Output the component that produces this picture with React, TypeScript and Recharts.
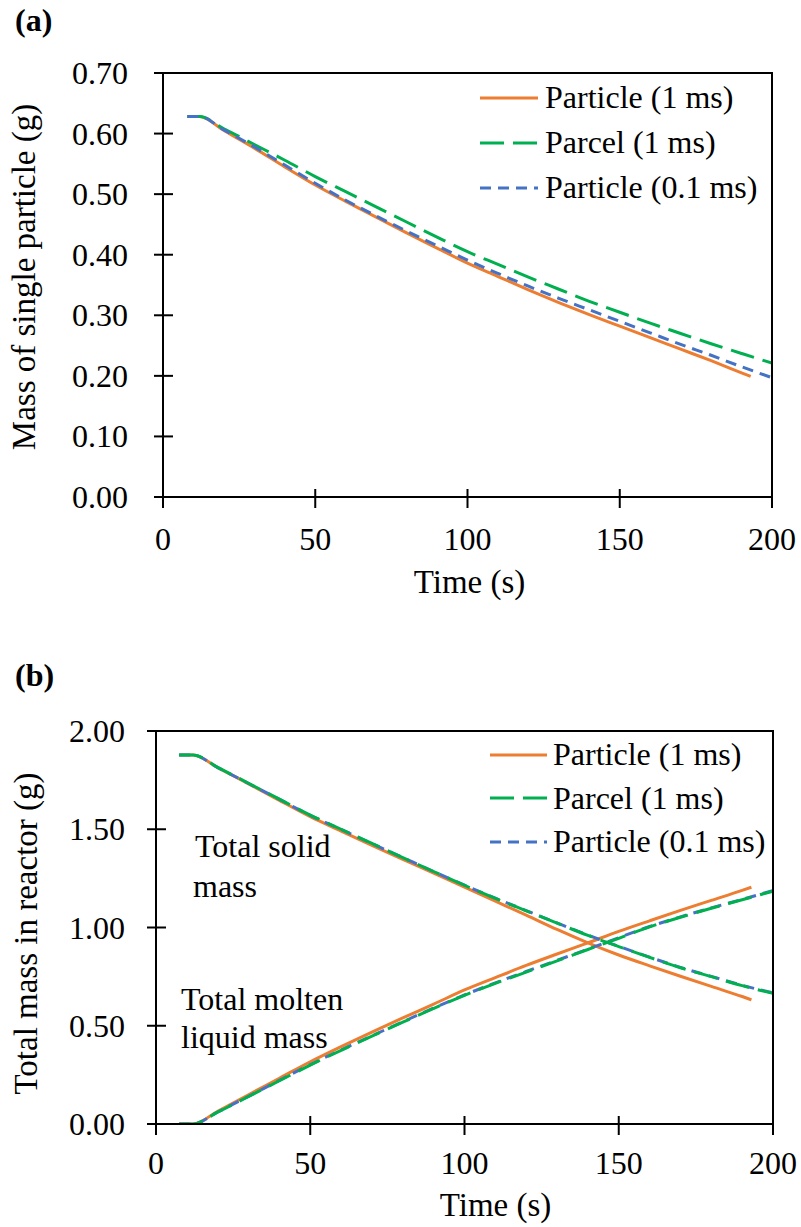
import React from 'react';
import { LineChart, Line, XAxis, YAxis, ReferenceArea, Legend, Label } from 'recharts';

const FONT = '"Liberation Serif", "Times New Roman", Times, serif';

const timeA_p1 = [8, 12, 20, 30, 40, 50, 60, 70, 80, 90, 100, 110, 120, 130, 140, 150, 160, 170, 180, 190, 193];
const timeA_full = [8, 12, 20, 30, 40, 50, 60, 70, 80, 90, 100, 110, 120, 130, 140, 150, 160, 170, 180, 190, 200];
const particle1msA = [0.628, 0.628, 0.605, 0.576, 0.545, 0.515, 0.488, 0.462, 0.436, 0.411, 0.386, 0.364, 0.342, 0.321, 0.301, 0.282, 0.263, 0.244, 0.225, 0.205, 0.199];
const parcel1msA = [0.628, 0.628, 0.608, 0.582, 0.556, 0.529, 0.504, 0.479, 0.454, 0.429, 0.405, 0.384, 0.363, 0.343, 0.323, 0.305, 0.287, 0.270, 0.253, 0.237, 0.221];
const particle01msA = [0.628, 0.628, 0.606, 0.578, 0.548, 0.518, 0.490, 0.464, 0.439, 0.415, 0.391, 0.369, 0.348, 0.328, 0.309, 0.290, 0.271, 0.252, 0.234, 0.215, 0.197];
const yTicksA = [0, 0.1, 0.2, 0.3, 0.4, 0.5, 0.6, 0.7];

const timeB_p1 = [7.5, 12, 20, 30, 40, 50, 60, 70, 80, 90, 100, 110, 120, 130, 140, 150, 160, 170, 180, 190, 193];
const timeB_full = [7.5, 12, 20, 30, 40, 50, 60, 70, 80, 90, 100, 110, 120, 130, 140, 150, 160, 170, 180, 190, 200];
const particle1msSolid = [1.878, 1.878, 1.814, 1.731, 1.647, 1.564, 1.491, 1.418, 1.347, 1.277, 1.205, 1.134, 1.063, 0.990, 0.922, 0.860, 0.805, 0.752, 0.700, 0.649, 0.632];
const particle1msLiquid = [0, 0, 0.065, 0.149, 0.233, 0.317, 0.394, 0.468, 0.540, 0.610, 0.682, 0.745, 0.807, 0.865, 0.922, 0.980, 1.034, 1.087, 1.138, 1.189, 1.205];
const parcel1msSolid = [1.878, 1.878, 1.815, 1.734, 1.653, 1.572, 1.500, 1.428, 1.356, 1.285, 1.215, 1.148, 1.085, 1.022, 0.960, 0.903, 0.848, 0.795, 0.750, 0.704, 0.665];
const parcel1msLiquid = [0, 0, 0.060, 0.140, 0.220, 0.300, 0.375, 0.447, 0.518, 0.588, 0.655, 0.716, 0.773, 0.830, 0.888, 0.945, 1.003, 1.052, 1.098, 1.141, 1.185];
const particle01msSolid = [1.878, 1.878, 1.814, 1.733, 1.652, 1.571, 1.499, 1.427, 1.356, 1.285, 1.216, 1.149, 1.086, 1.023, 0.961, 0.904, 0.849, 0.797, 0.751, 0.706, 0.667];
const particle01msLiquid = [0, 0, 0.061, 0.141, 0.222, 0.302, 0.377, 0.449, 0.520, 0.590, 0.657, 0.718, 0.776, 0.833, 0.890, 0.948, 1.005, 1.054, 1.100, 1.143, 1.188];
const yTicksB = [0, 0.5, 1.0, 1.5, 2.0];

const xTicks = [0, 50, 100, 150, 200];

const seriesNames = ['Particle (1 ms)', 'Parcel (1 ms)', 'Particle (0.1 ms)'];
const ORANGE = '#ED7D31';
const GREEN = '#00B050';
const BLUE = '#4472C4';
const seriesStyles = [
  { color: ORANGE, dash: undefined as string | undefined },
  { color: GREEN, dash: '24 9' },
  { color: BLUE, dash: '11 7' },
];

const toPoints = (ts: number[], vs: number[]) => ts.map((t, i) => ({ t, v: vs[i] }));

const makeYTick = (margin: number) => (props: any) => {
  const { x, y, payload } = props;
  const ax = x + margin;
  return (
    <g>
      <line x1={ax - 9} x2={ax + 10} y1={y} y2={y} stroke="#000" strokeWidth={2} />
      <text x={x} y={y} dy={11} textAnchor="end" fontFamily={FONT} fontSize={32} fill="#000">
        {Number(payload.value).toFixed(2)}
      </text>
    </g>
  );
};

const makeXTick = (margin: number, baseline: number) => (props: any) => {
  const { x, y, payload } = props;
  const ay = y - margin;
  return (
    <g>
      <line x1={x} x2={x} y1={ay - 8} y2={ay + 11} stroke="#000" strokeWidth={2} />
      <text x={x} y={ay + baseline} textAnchor="middle" fontFamily={FONT} fontSize={32} fill="#000">
        {payload.value}
      </text>
    </g>
  );
};

const makeLegend = (lineW: number, gap: number, rowH: number) => () => (
  <div style={{ position: 'relative' }}>
    {seriesNames.map((name, i) => (
      <div key={name} style={{ height: rowH, display: 'flex', alignItems: 'center' }}>
        <svg width={lineW} height={10} style={{ display: 'block' }}>
          <line x1={0} x2={lineW} y1={5} y2={5} stroke={seriesStyles[i].color} strokeWidth={3} strokeDasharray={seriesStyles[i].dash} />
        </svg>
        <span style={{ marginLeft: gap, fontFamily: FONT, fontSize: 32, color: '#000', lineHeight: rowH + 'px', whiteSpace: 'nowrap' }}>{name}</span>
      </div>
    ))}
  </div>
);

const yTitle = (text: string, dxBase: number, dyShift: number) => (props: any) => {
  const vb = props.viewBox || { x: 0, y: 0, width: 0, height: 0 };
  const cx = vb.x + dxBase;
  const cy = vb.y + vb.height / 2 + dyShift;
  return (
    <text x={cx} y={cy} transform={`rotate(-90 ${cx} ${cy})`} textAnchor="middle" fontFamily={FONT} fontSize={33} fill="#000">
      {text}
    </text>
  );
};

const xTitle = (text: string, dxShift: number, baseline: number) => (props: any) => {
  const vb = props.viewBox || { x: 0, y: 0, width: 0, height: 0 };
  const cx = vb.x + vb.width / 2 + dxShift;
  const cy = vb.y + baseline;
  return (
    <text x={cx} y={cy} textAnchor="middle" fontFamily={FONT} fontSize={33} fill="#000">
      {text}
    </text>
  );
};

const legendWrap = (left: number, top: number, width: number, height: number) => ({
  position: 'absolute' as const, left, top, width, height, pointerEvents: 'none' as const,
});

const ChartA = () => (
  <LineChart width={801} height={620} margin={{ top: 73, right: 29, bottom: 0, left: 0 }}>
    <XAxis type="number" dataKey="t" domain={[0, 200]} ticks={xTicks} height={123} tickSize={0} tickMargin={30} tickLine={false}
      axisLine={{ stroke: '#000', strokeWidth: 2 }} tick={makeXTick(30, 53)} allowDataOverflow>
      <Label content={xTitle('Time (s)', 2, 96)} />
    </XAxis>
    <YAxis type="number" domain={[0, 0.7]} ticks={yTicksA} width={163} tickSize={0} tickMargin={35} tickLine={false}
      axisLine={{ stroke: '#000', strokeWidth: 2 }} tick={makeYTick(35)} allowDataOverflow>
      <Label content={yTitle('Mass of single particle (g)', 35, -8)} />
    </YAxis>
    <ReferenceArea x1={0} x2={200} y1={0} y2={0.7} fill="none" fillOpacity={0} stroke="#000" strokeWidth={2} ifOverflow="visible" />
    <Legend layout="horizontal" verticalAlign="middle" align="center" content={makeLegend(58, 7, 45)} wrapperStyle={legendWrap(480, 75, 285, 135)} />
    <Line data={toPoints(timeA_p1, particle1msA)} dataKey="v" name={seriesNames[0]} type="monotone" stroke={ORANGE} strokeWidth={3} dot={false} isAnimationActive={false} />
    <Line data={toPoints(timeA_full, parcel1msA)} dataKey="v" name={seriesNames[1]} type="monotone" stroke={GREEN} strokeWidth={3} strokeDasharray="24 9" dot={false} isAnimationActive={false} />
    <Line data={toPoints(timeA_full, particle01msA)} dataKey="v" name={seriesNames[2]} type="monotone" stroke={BLUE} strokeWidth={3} strokeDasharray="11 7" dot={false} isAnimationActive={false} />
  </LineChart>
);

const ChartB = () => (
  <LineChart width={801} height={607} margin={{ top: 111, right: 28, bottom: 0, left: 0 }}>
    <XAxis type="number" dataKey="t" domain={[0, 200]} ticks={xTicks} height={103} tickSize={0} tickMargin={30} tickLine={false}
      axisLine={{ stroke: '#000', strokeWidth: 2 }} tick={makeXTick(30, 50)} allowDataOverflow>
      <Label content={xTitle('Time (s)', 31, 92)} />
    </XAxis>
    <YAxis type="number" domain={[0, 2]} ticks={yTicksB} width={156} tickSize={0} tickMargin={31} tickLine={false}
      axisLine={{ stroke: '#000', strokeWidth: 2 }} tick={makeYTick(31)} allowDataOverflow>
      <Label content={yTitle('Total mass in reactor  (g)', 37, 6)} />
    </YAxis>
    <ReferenceArea x1={0} x2={200} y1={0} y2={2} fill="none" fillOpacity={0} stroke="#000" strokeWidth={2} ifOverflow="visible" />
    <Legend layout="horizontal" verticalAlign="middle" align="center" content={makeLegend(57, 6, 43.5)} wrapperStyle={legendWrap(490, 113, 278, 131)} />
    <Line data={toPoints(timeB_p1, particle1msSolid)} dataKey="v" name={seriesNames[0]} type="monotone" stroke={ORANGE} strokeWidth={3} dot={false} isAnimationActive={false} />
    <Line data={toPoints(timeB_p1, particle1msLiquid)} dataKey="v" name={seriesNames[0] + ' liquid'} legendType="none" type="monotone" stroke={ORANGE} strokeWidth={3} dot={false} isAnimationActive={false} />
    <Line data={toPoints(timeB_full, particle01msSolid)} dataKey="v" name={seriesNames[2]} type="monotone" stroke={BLUE} strokeWidth={3} strokeDasharray="11 7" dot={false} isAnimationActive={false} />
    <Line data={toPoints(timeB_full, particle01msLiquid)} dataKey="v" name={seriesNames[2] + ' liquid'} legendType="none" type="monotone" stroke={BLUE} strokeWidth={3} strokeDasharray="11 7" dot={false} isAnimationActive={false} />
    <Line data={toPoints(timeB_full, parcel1msSolid)} dataKey="v" name={seriesNames[1]} type="monotone" stroke={GREEN} strokeWidth={3} strokeDasharray="24 9" dot={false} isAnimationActive={false} />
    <Line data={toPoints(timeB_full, parcel1msLiquid)} dataKey="v" name={seriesNames[1] + ' liquid'} legendType="none" type="monotone" stroke={GREEN} strokeWidth={3} strokeDasharray="24 9" dot={false} isAnimationActive={false} />
  </LineChart>
);

export default function App() {
  return (
    <div style={{ position: 'absolute', left: 0, top: 0, width: 801, height: 1227, background: '#fff', overflow: 'hidden' }}>
      <div style={{ position: 'absolute', left: 0, top: 0, width: 801, height: 620 }}>
        <ChartA />
      </div>
      <div style={{ position: 'absolute', left: 0, top: 620, width: 801, height: 607 }}>
        <ChartB />
      </div>
      <svg width={801} height={1227} style={{ position: 'absolute', left: 0, top: 0, pointerEvents: 'none' }}>
        <line x1={772} x2={772} y1={72} y2={498} stroke="#000" strokeWidth={2} />
        <line x1={773} x2={773} y1={730} y2={1125} stroke="#000" strokeWidth={2} />
        <text x={15} y={31} fontFamily={FONT} fontSize={32} fontWeight="bold" fill="#000">(a)</text>
        <text x={15} y={686} fontFamily={FONT} fontSize={32} fontWeight="bold" fill="#000">(b)</text>
        <text x={195} y={857} fontFamily={FONT} fontSize={32} fill="#000">Total solid</text>
        <text x={193} y={897} fontFamily={FONT} fontSize={32} fill="#000">mass</text>
        <text x={181} y={1010} fontFamily={FONT} fontSize={32} fill="#000">Total molten</text>
        <text x={181} y={1048} fontFamily={FONT} fontSize={32} fill="#000">liquid mass</text>
      </svg>
    </div>
  );
}
